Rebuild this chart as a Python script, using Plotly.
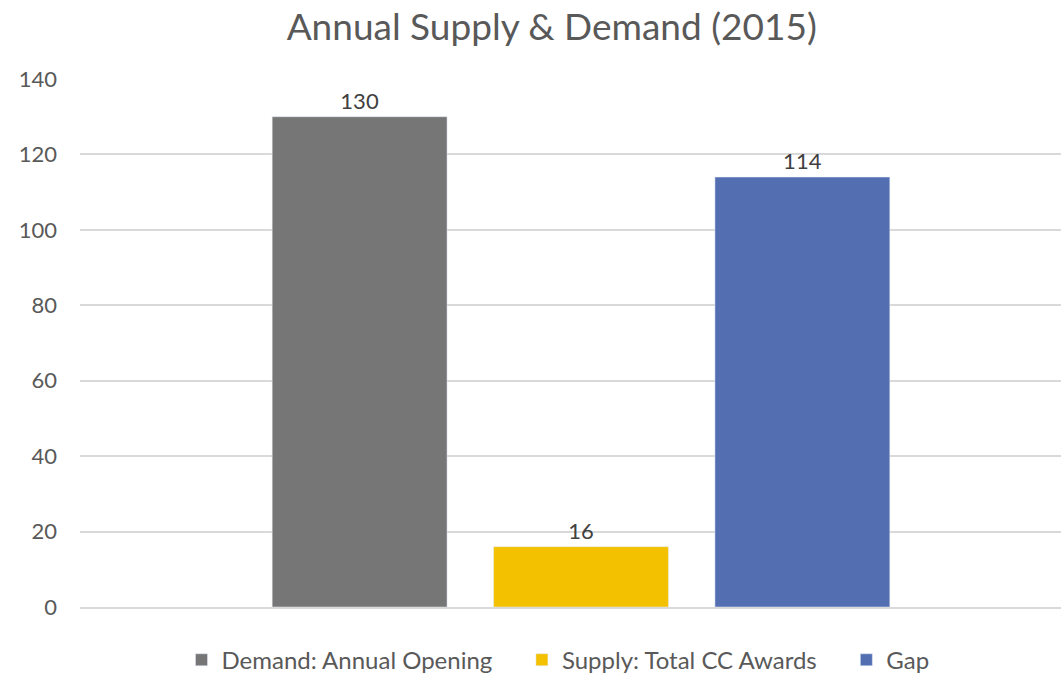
import plotly.graph_objects as go

# Chart data
category = ["2015"]
series_names = ["Demand: Annual Opening", "Supply: Total CC Awards", "Gap"]
series_values = [130, 16, 114]
series_colors = ["#767676", "#F4C100", "#536FB2"]
y_ticks = [0, 20, 40, 60, 80, 100, 120, 140]

pad = "\u00a0" * 4  # extra spacing between legend entries

fig = go.Figure()
for i, (name, val, col) in enumerate(zip(series_names, series_values, series_colors)):
    fig.add_trace(go.Bar(
        x=category, y=[val], name=name + (pad if i < len(series_names) - 1 else ""),
        marker_color=col,
        text=[val], textposition="outside", cliponaxis=False,
        textfont=dict(size=22, color="#404040"),
    ))

fig.update_layout(
    width=1061, height=675,
    barmode="group", bargap=0.323, bargroupgap=0.21,
    paper_bgcolor="white", plot_bgcolor="white",
    font=dict(family="Lato, Open Sans, sans-serif", color="#595959"),
    title=dict(text="Annual Supply & Demand (2015)", x=0.52, xref="container",
               y=0.96, yanchor="middle", font=dict(size=37, color="#595959")),
    margin=dict(l=80, r=0, t=79, b=68),
    legend=dict(orientation="h", x=558 / 1061, xanchor="center", xref="container",
                y=0.022, yref="container", yanchor="middle",
                font=dict(size=24, color="#595959"), itemwidth=30,
                traceorder="normal"),
    showlegend=True,
)
fig.update_xaxes(showticklabels=False, showgrid=False, showline=True,
                 linecolor="#D9D9D9", linewidth=1.5, range=[-0.5107, 0.4893])
fig.update_yaxes(range=[0, 140], tickvals=y_ticks, showgrid=True,
                 gridcolor="#D9D9D9", gridwidth=1.5, zeroline=False,
                 tickfont=dict(size=22, color="#595959"), ticklabelstandoff=22,
                 showline=False)

fig.write_html("out.html", config={"displayModeBar": False},
               post_script="document.body.style.margin='0';")
